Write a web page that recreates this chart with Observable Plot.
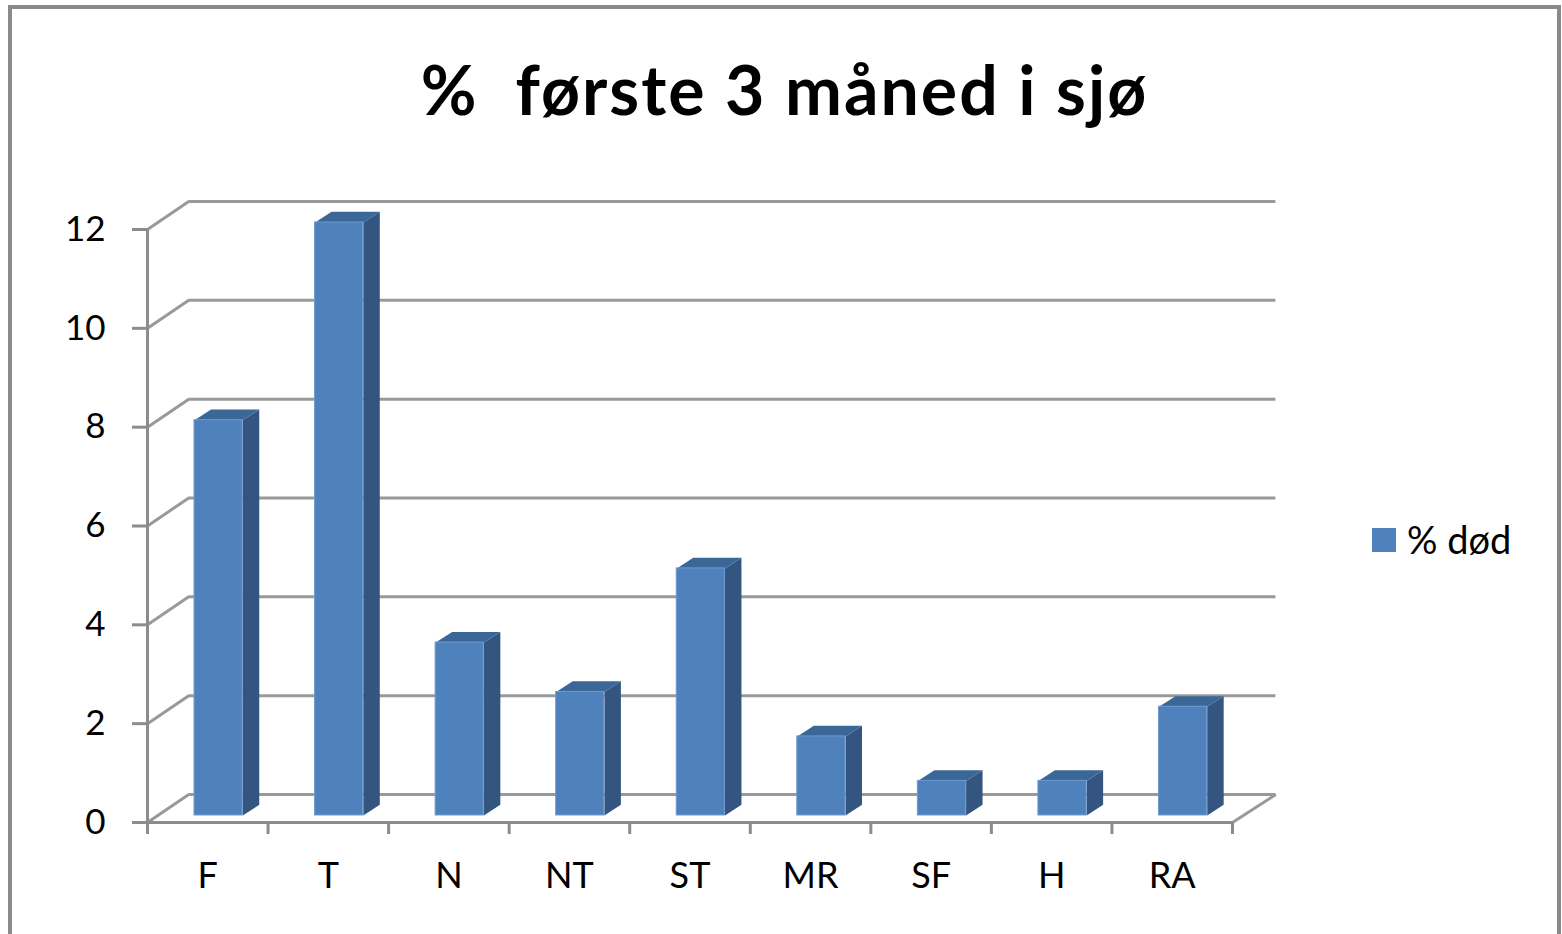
<!DOCTYPE html>
<html>
<head>
<meta charset="utf-8">
<script src="https://cdn.jsdelivr.net/npm/d3@7"></script>
<script src="https://cdn.jsdelivr.net/npm/@observablehq/plot@0.6"></script>
<style>
  html, body { margin: 0; padding: 0; background: #fff; }
  #frame {
    position: absolute; left: 8px; top: 5px; width: 1553px; height: 960px;
    border: 4px solid #8a8a8a; box-sizing: border-box; background: #fff; overflow: hidden;
  }
  #title {
    position: absolute; left: 0; top: 46px; width: 100%; text-align: center;
    font-family: Lato, "Open Sans", sans-serif; font-weight: 700; font-size: 68px;
    letter-spacing: 2px; line-height: 1; white-space: pre; color: #000;
  }
  #chart { position: absolute; left: 0; top: 151px; }
  #legend {
    position: absolute; left: 1360px; top: 511px; height: 40px;
    font-family: Lato, "Open Sans", sans-serif; font-size: 38px; line-height: 1; color: #000;
    white-space: pre;
  }
  #legend .sw { position: absolute; left: 0; top: 8px; width: 24px; height: 24px; background: #4f81bd; }
  #legend .lb { position: absolute; left: 35px; top: 0; }
</style>
</head>
<body>
<div id="frame">
  <div id="title"></div>
  <div id="chart"></div>
  <div id="legend"><div class="sw"></div><div class="lb"></div></div>
</div>
<script>
// ---- data ----
const titleText = "%  første 3 måned i sjø";
const seriesName = "% død";
const categories = ["F", "T", "N", "NT", "ST", "MR", "SF", "H", "RA"];
const values = [8, 12, 3.5, 2.5, 5, 1.6, 0.7, 0.7, 2.2];
const yTicks = [0, 2, 4, 6, 8, 10, 12];

// ---- 3D depth (in data units) ----
const DX = 0.36;    // full depth offset along x
const DY = 0.567;   // full depth offset along y
const front = 0.25; // bar front-face depth
const thick = 0.38; // bar depth
const half = 0.2;   // bar half width

const bars = categories.map((c, i) => ({c, i, v: values[i]}));

// side & top faces as polygons
const sidePts = [];
const topPts = [];
for (const b of bars) {
  const xl = b.i + 0.5 - half + front * DX;
  const xr = b.i + 0.5 + half + front * DX;
  const y0 = front * DY;
  const yt = b.v + front * DY;
  const ddx = thick * DX, ddy = thick * DY;
  sidePts.push(
    {id: b.c, x: xr, y: y0},
    {id: b.c, x: xr + ddx, y: y0 + ddy},
    {id: b.c, x: xr + ddx, y: yt + ddy},
    {id: b.c, x: xr, y: yt}
  );
  topPts.push(
    {id: b.c, x: xl, y: yt},
    {id: b.c, x: xr, y: yt},
    {id: b.c, x: xr + ddx, y: yt + ddy},
    {id: b.c, x: xl + ddx, y: yt + ddy}
  );
}

const grid = "#999999";
const axisCol = "#8c8c8c";
const n = categories.length;
const xTicks = d3.range(0, n + 1);

const plot = Plot.plot({
  width: 1545,
  height: 774,
  marginLeft: 135,
  marginRight: 325,
  marginTop: 69,
  marginBottom: 112,
  x: {domain: [0, n], axis: null},
  y: {domain: [0, 12], axis: null},
  style: {fontFamily: "Lato, 'Open Sans', sans-serif", fontSize: "35px", color: "#000", background: "#fff", overflow: "visible"},
  marks: [
    // back wall gridlines
    Plot.ruleY(yTicks, {y: t => t + DY, x1: DX * 0.95, x2: n + DX, stroke: grid, strokeWidth: 3}),
    // left side wall diagonals
    Plot.link(yTicks, {x1: 0, y1: t => t, x2: DX * 0.95, y2: t => t + DY, stroke: grid, strokeWidth: 3}),
    // right floor diagonal
    Plot.link([0], {x1: n, y1: 0, x2: n + DX, y2: DY, stroke: grid, strokeWidth: 3}),
    // bars
    Plot.line(sidePts, {x: "x", y: "y", z: "id", fill: "#34557f", stroke: "none", curve: "linear"}),
    Plot.line(topPts, {x: "x", y: "y", z: "id", fill: "#3b6698", stroke: "none", curve: "linear"}),
    Plot.rect(bars, {
      x1: d => d.i + 0.5 - half + front * DX,
      x2: d => d.i + 0.5 + half + front * DX,
      y1: front * DY,
      y2: d => d.v + front * DY,
      fill: "#4f81bd", stroke: "#6f9ad0", strokeWidth: 1
    }),
    // front axes
    Plot.ruleY([0], {x1: 0, x2: n, stroke: axisCol, strokeWidth: 3}),
    Plot.ruleX([0], {y1: 0, y2: 12, stroke: axisCol, strokeWidth: 3}),
    Plot.axisY({ticks: yTicks, tickSize: 15, tickPadding: 27, stroke: axisCol, strokeWidth: 3, fill: "#000", fontSize: 35, label: null, tickFormat: d => String(d)}),
    Plot.axisX({ticks: xTicks, tickSize: 12, stroke: axisCol, strokeWidth: 3, tickFormat: () => "", label: null}),
    // category labels
    Plot.text(bars, {x: d => d.i + 0.5, y: 0, text: "c", dy: 54, fontSize: 36, fill: "#000"})
  ]
});

document.getElementById("chart").appendChild(plot);
document.getElementById("title").textContent = titleText;
document.querySelector("#legend .lb").textContent = seriesName;
</script>
</body>
</html>
